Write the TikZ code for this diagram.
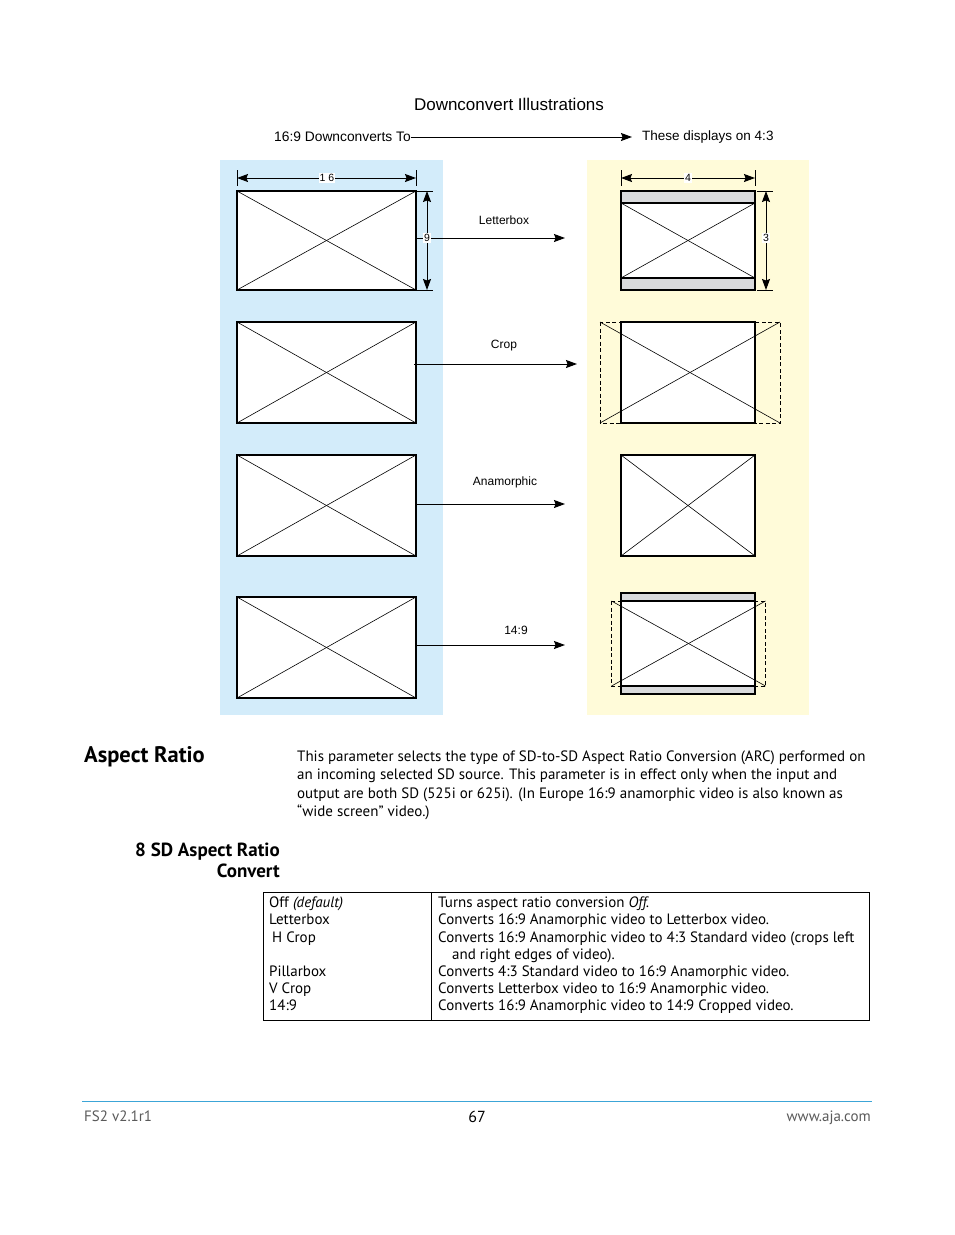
\documentclass[tikz,border=0pt]{standalone}
\usepackage{fontspec}
\setmainfont{PT Sans}
\newfontfamily\helv{Liberation Sans}
\usetikzlibrary{arrows.meta}
\definecolor{panelblue}{RGB}{211,236,250}
\definecolor{panelyellow}{RGB}{255,251,217}
\definecolor{bargray}{RGB}{217,218,220}
\definecolor{footgray}{RGB}{90,90,90}
\definecolor{footline}{RGB}{60,165,215}
\tikzset{
  screen/.style={draw, line width=1.1pt, fill=white, inner sep=0pt, outer sep=0pt},
  diag/.style={line width=0.6pt},
  dashbox/.style={draw, dashed, line width=0.7pt, dash pattern=on 4pt off 2.5pt},
  bar/.style={draw, line width=1.1pt, fill=bargray},
  flow/.style={line width=1pt, -{Stealth[length=11pt,width=8pt,inset=1.5pt]}},
  dim/.style={line width=1pt, {Stealth[length=11pt,width=8pt,inset=1.5pt]}-{Stealth[length=11pt,width=8pt,inset=1.5pt]}},
  tick/.style={line width=0.7pt},
  dimlab/.style={fill=white, inner sep=1pt, font=\helv\fontsize{10.5}{12}\selectfont},
  lab/.style={font=\helv\fontsize{12}{14}\selectfont, inner sep=0pt},
  body/.style={font=\fontsize{15}{18}\selectfont, inner sep=0pt, anchor=base west},
  cell/.style={font=\fontsize{15}{18}\selectfont, inner sep=0pt, anchor=base west},
}
\begin{document}
\begin{tikzpicture}[x=1pt,y=-1pt]
\useasboundingbox (0,0) rectangle (954,1235);
\fill[white] (0,0) rectangle (954,1235);
% panels
\fill[panelblue] (220,160) rectangle (443,715);
\fill[panelyellow] (587,160) rectangle (809,715);
% titles
\node[font=\helv\fontsize{17}{20}\selectfont, inner sep=0pt] (title) at (509,104) {Downconvert Illustrations};
\node[font=\helv\fontsize{13.8}{16}\selectfont, inner sep=0pt, anchor=west] (src) at (274,137) {16:9 Downconverts To};
\node[font=\helv\fontsize{13.5}{16}\selectfont, inner sep=0pt, anchor=west] (dst) at (642,137) {These displays on 4:3};
\coordinate (dstin) at (632,137);
\draw[flow] (src.east) -- (dstin);
% left boxes
\node[screen, minimum width=179pt, minimum height=99pt] (L1) at (326.5,240.5) {};
\node[screen, minimum width=179pt, minimum height=101pt] (L2) at (326.5,372.5) {};
\node[screen, minimum width=179pt, minimum height=101pt] (L3) at (326.5,505.5) {};
\node[screen, minimum width=179pt, minimum height=101pt] (L4) at (326.5,647.5) {};
\foreach \n in {L1,L2,L3,L4}{
  \draw[diag] (\n.north west) -- (\n.south east);
  \draw[diag] (\n.south west) -- (\n.north east);
}
% left dimensions
\draw[tick] (237,170) -- (237,186);
\draw[tick] (416,170) -- (416,186);
\coordinate (d16a) at (237,178);
\coordinate (d16b) at (416,178);
\draw[dim] (d16a) -- (d16b);
\node[dimlab] (n16) at (327,178) {1 6};
\draw[tick] (416,191) -- (433,191);
\draw[tick] (416,290) -- (433,290);
% flow arrows
\coordinate (a1) at (565,238);
\coordinate (a1s) at (416,238);
\draw[flow] (a1s) -- (a1);
\coordinate (d9a) at (427,191);
\coordinate (d9b) at (427,290);
\draw[dim] (d9a) -- (d9b);
\node[dimlab] (n9) at (427,238) {9};
\node[lab] (lLetter) at (504,220) {Letterbox};
\coordinate (a2s) at (414,364);
\coordinate (a2) at (577,364);
\draw[flow] (a2s) -- (a2);
\node[lab] (lCrop) at (504,346) {Crop};
\coordinate (a3s) at (416,504);
\coordinate (a3) at (565,504);
\draw[flow] (a3s) -- (a3);
\node[lab] (lAna) at (505,482) {Anamorphic};
\coordinate (a4s) at (416,645);
\coordinate (a4) at (565,645);
\draw[flow] (a4s) -- (a4);
\node[lab] (l149) at (516,630) {14:9};
% right box 1 letterbox
\node[screen, minimum width=134pt, minimum height=99pt] (R1) at (688,240.5) {};
\draw[bar] (621,191) rectangle (755,203);
\draw[bar] (621,278) rectangle (755,290);
\draw[diag] (621,203) -- (755,278);
\draw[diag] (621,278) -- (755,203);
\draw[tick] (621,170) -- (621,186);
\draw[tick] (755,170) -- (755,186);
\coordinate (d4a) at (621,178);
\coordinate (d4b) at (755,178);
\draw[dim] (d4a) -- (d4b);
\node[dimlab] (n4) at (688,178) {4};
\draw[tick] (757,191) -- (773,191);
\draw[tick] (757,290) -- (773,290);
\coordinate (d3a) at (766,191);
\coordinate (d3b) at (766,290);
\draw[dim] (d3a) -- (d3b);
\node[dimlab] (n3) at (766,238) {3};
% right box 2 crop
\draw[dashbox] (600,322) rectangle (780,423);
\node[screen, minimum width=134pt, minimum height=101pt] (R2) at (688,372.5) {};
\draw[diag] (600,322) -- (780,423);
\draw[diag] (600,423) -- (780,322);
% right box 3 anamorphic
\node[screen, minimum width=134pt, minimum height=101pt] (R3) at (688,505.5) {};
\draw[diag] (R3.north west) -- (R3.south east);
\draw[diag] (R3.south west) -- (R3.north east);
% right box 4 14:9
\node[screen, minimum width=134pt, minimum height=101pt] (R4) at (688,643.5) {};
\draw[bar] (621,593) rectangle (755,601);
\draw[bar] (621,686) rectangle (755,694);
\draw[dashbox] (611.5,601) rectangle (765.5,686);
\draw[diag] (611.5,601) -- (765.5,686);
\draw[diag] (611.5,686) -- (765.5,601);
% Aspect Ratio section
\node[font=\bfseries\fontsize{22.5}{26}\selectfont, inner sep=0pt, anchor=base west] (hAR) at (84,762) {Aspect Ratio};
\node[body] (p1) at (297,761) {This parameter selects the type of SD-to-SD Aspect Ratio Conversion (ARC) performed on};
\node[body] (p2) at (297,779.5) {an incoming selected SD source. This parameter is in effect only when the input and};
\node[body] (p3) at (297,798) {output are both SD (525i or 625i). (In Europe 16:9 anamorphic video is also known as};
\node[body] (p4) at (297,816.5) {“wide screen” video.)};
\node[font=\bfseries\fontsize{19}{22}\selectfont, inner sep=0pt, anchor=base east] (h8a) at (280,856) {8 SD Aspect Ratio};
\node[font=\bfseries\fontsize{19}{22}\selectfont, inner sep=0pt, anchor=base east] (h8b) at (280,877) {Convert};
% table
\draw[line width=0.9pt] (263,892) rectangle (869,1020);
\draw[line width=0.9pt] (431,892) -- (431,1020);
\node[cell] (c11) at (269,907) {Off \textit{(default)}};
\node[cell] (c21) at (269,924) {Letterbox};
\node[cell] (c31) at (272,942) {H Crop};
\node[cell] (c41) at (269,976) {Pillarbox};
\node[cell] (c51) at (269,993) {V Crop};
\node[cell] (c61) at (269,1010) {14:9};
\node[cell] (c12) at (438,907) {Turns aspect ratio conversion \textit{Off.}};
\node[cell] (c22) at (438,924) {Converts 16:9 Anamorphic video to Letterbox video.};
\node[cell] (c32) at (438,942) {Converts 16:9 Anamorphic video to 4:3 Standard video (crops left};
\node[cell] (c33) at (452,959) {and right edges of video).};
\node[cell] (c42) at (438,976) {Converts 4:3 Standard video to 16:9 Anamorphic video.};
\node[cell] (c52) at (438,993) {Converts Letterbox video to 16:9 Anamorphic video.};
\node[cell] (c62) at (438,1010) {Converts 16:9 Anamorphic video to 14:9 Cropped video.};
% footer
\draw[footline, line width=0.8pt] (82,1101) -- (872,1101);
\node[font=\fontsize{15}{18}\selectfont, text=footgray, inner sep=0pt, anchor=base west] (fl) at (84,1121) {FS2 v2.1r1};
\node[font=\fontsize{16}{19}\selectfont, inner sep=0pt, anchor=base] (fc) at (477,1122) {67};
\node[font=\fontsize{15}{18}\selectfont, text=footgray, inner sep=0pt, anchor=base east] (fr) at (871,1121) {www.aja.com};
\end{tikzpicture}
\end{document}
